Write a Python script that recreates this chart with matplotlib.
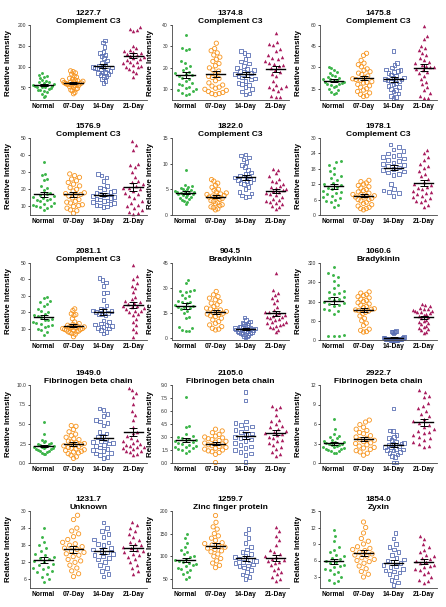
import numpy as np
import matplotlib.pyplot as plt

plt.rcParams['font.family'] = ['Liberation Sans', 'DejaVu Sans']

groups = ["Normal", "07-Day", "14-Day", "21-Day"]
colors = ["#3db54a", "#f7941d", "#5a6fb3", "#a81c5e"]

titles = ["1227.7\nComplement C3", "1374.8\nComplement C3", "1475.8\nComplement C3",
          "1576.9\nComplement C3", "1822.0\nComplement C3", "1978.1\nComplement C3",
          "2081.1\nComplement C3", "904.5\nBradykinin", "1060.6\nBradykinin",
          "1949.0\nFibrinogen beta chain", "2105.0\nFibrinogen beta chain", "2922.7\nFibrinogen beta chain",
          "1231.7\nUnknown", "1259.7\nZinc finger protein", "1854.0\nZyxin"]

# values per peak: Normal, 07-Day, 14-Day, 21-Day
mz_1227_7 = [
    [84, 80, 78, 75, 72, 68, 66, 64, 62, 60, 58, 57, 56, 55, 54, 53, 52, 51, 50, 48, 46, 45, 43, 41, 38, 35, 30, 27],
    [90, 88, 85, 82, 78, 75, 72, 70, 68, 67, 66, 65, 64, 63, 62, 61, 60, 60, 59, 58, 57, 56, 55, 54, 52, 50, 48, 46, 44, 42, 38, 35],
    [163, 158, 148, 135, 132, 128, 125, 120, 115, 110, 105, 103, 100, 99, 98, 97, 96, 95, 93, 90, 88, 86, 84, 82, 80, 78, 75, 70, 65, 60],
    [196, 190, 188, 185, 150, 145, 140, 138, 135, 132, 130, 128, 125, 122, 120, 118, 115, 112, 110, 108, 105, 102, 100, 98, 95, 90, 85, 75]]
mz_1374_8 = [
    [35.5, 29.5, 29, 28.5, 23, 22.5, 21, 20, 19, 18, 17.5, 17, 16.5, 16, 15.5, 15, 14, 13, 12.5, 12, 11, 10.5, 10, 9.5, 9, 8.5, 8, 7.5],
    [31.5, 29, 28, 27, 26, 25, 24, 23, 22, 21, 20, 19, 18.5, 17, 16, 15.5, 15, 14, 13, 12, 11.5, 11, 10.5, 10, 9.5, 9, 8.5, 8, 8, 7.5],
    [28, 27, 26, 24, 23, 22, 21, 20, 19.5, 19, 18.5, 18, 17.5, 17, 16.5, 16, 15.5, 15, 14.5, 14, 13, 12.5, 12, 11, 10, 9, 8, 7.5],
    [36.5, 32, 31, 30.5, 29, 28, 26, 25, 24.5, 24, 23, 22.5, 22, 21.5, 21, 20, 19, 18, 17, 16, 14, 12, 11.5, 11, 10.5, 10, 9, 7, 6.5, 6.5]]
mz_1475_8 = [
    [30.5, 29.5, 28.5, 27, 26, 25, 24, 23, 22.5, 22, 21.5, 21, 20.5, 20, 19.5, 19, 18.5, 18, 17.5, 17, 16, 15, 14, 13, 12, 11],
    [40, 38.5, 35, 33, 32, 30.5, 29, 28, 27, 26, 25, 24, 23, 22, 21.5, 21, 20, 19.5, 19, 18, 17, 16, 15, 14, 13, 12, 11, 10, 9.5],
    [41.5, 33, 31.5, 30, 28.5, 28, 27.5, 27, 26, 25, 24, 23, 22.5, 22, 21.5, 21, 20.5, 20, 19, 18, 17, 16, 15, 14, 13, 11.5, 10, 9, 8.5],
    [59, 52.5, 50, 45.5, 44, 42, 40.5, 39, 37, 35.5, 34, 33, 32, 31, 30.5, 30, 29, 28, 27, 26, 24, 22, 20, 18, 16, 14, 12, 10, 8.5, 8.5]]
mz_1576_9 = [
    [36, 29, 28.5, 26, 25.5, 22, 21, 19.5, 18, 17, 16.5, 16, 15.5, 15, 14.5, 14, 13.5, 13, 12, 11.5, 11, 10.5, 10, 9.5, 9, 8],
    [29, 28, 27, 26, 25, 24, 23, 22, 21, 20, 19, 18, 17.5, 17, 16.5, 16, 15, 14, 13, 12.5, 12, 11, 10.5, 10, 9, 8, 7.5, 6],
    [29, 28, 27, 25, 22, 21, 20, 19, 18.5, 18, 17.5, 17, 16.5, 16, 15.5, 15, 14.5, 14, 13.5, 13, 12.5, 12, 11.5, 11, 10.5, 10, 9.5],
    [48, 46, 43, 35, 34, 33, 30, 27, 25, 24, 23, 22, 21, 20.5, 20, 19, 18, 17, 16, 15, 13, 12, 11, 10, 9, 8, 7, 6, 5.5]]
mz_1822_0 = [
    [8.7, 5.9, 5.7, 5.5, 5.3, 5.1, 5.0, 4.8, 4.7, 4.6, 4.5, 4.4, 4.3, 4.2, 4.1, 4.0, 3.9, 3.8, 3.6, 3.5, 3.3, 3.1, 3.0, 2.8, 2.5, 2.2],
    [6.9, 6.6, 6.2, 5.8, 5.4, 5.0, 4.8, 4.5, 4.3, 4.1, 4.0, 3.8, 3.7, 3.6, 3.5, 3.4, 3.2, 3.0, 2.8, 2.6, 2.4, 2.2, 2.0, 1.8, 1.6, 1.4, 1.2, 1.0],
    [11.8, 11.6, 11.2, 10.8, 10.3, 9.7, 9.3, 8.8, 8.3, 8.0, 7.7, 7.5, 7.3, 7.1, 7.0, 6.8, 6.6, 6.4, 6.2, 6.0, 5.5, 5.0, 4.5, 4.2, 3.8, 3.6, 3.5],
    [9.0, 8.8, 8.1, 7.5, 7.0, 6.7, 6.4, 6.0, 5.7, 5.5, 5.2, 5.0, 4.8, 4.6, 4.4, 4.2, 4.0, 3.8, 3.5, 3.2, 3.0, 2.8, 2.6, 2.4, 2.2, 1.8, 1.5, 1.2]]
mz_1978_1 = [
    [21, 20.5, 19.5, 18.5, 17, 16, 15, 14.5, 13.5, 12.5, 12, 11.5, 11, 10.5, 10, 9.5, 9, 8.5, 8, 7.5, 7, 6.5, 6, 5.5, 5, 4, 3],
    [13.5, 13, 12.5, 12, 11.5, 11, 10.5, 10, 9.5, 9, 8.5, 8, 8, 7.5, 7.5, 7, 7, 6.5, 6, 6, 5.5, 5, 4.5, 4, 3.5, 3, 2.5, 2.5, 2],
    [27.5, 26.5, 25.5, 25, 24, 23.5, 23, 22.5, 22, 21.5, 21, 20.5, 20, 19.5, 19, 18.5, 18, 17.5, 17, 16.5, 16, 15.5, 12, 10, 9.5, 9, 8.5, 7.5],
    [25.5, 24, 22.5, 21.5, 20, 19, 18.5, 17, 16, 15, 14, 13, 12, 11.5, 11, 10.5, 10, 9.5, 9, 8.5, 8, 7.5, 7, 6.5, 6, 5.5, 5, 4, 3]]
mz_2081_1 = [
    [29.5, 28.5, 27, 26, 25, 24, 22, 21, 20, 19, 18, 17.5, 17, 16, 15.5, 15, 14, 13.5, 13, 12, 11.5, 11, 10, 9, 8, 6],
    [22, 21, 19, 18.5, 18, 16, 14, 13, 12.5, 12, 11.5, 11, 11, 10.5, 10.5, 10, 10, 9.5, 9.5, 9, 9, 8.5, 8, 8, 7.5, 7, 6.5, 5],
    [41, 39.5, 38, 36, 32, 31.5, 27.5, 24, 22, 21.5, 21, 20.5, 20, 19.5, 19, 18.5, 18, 15, 14, 13, 12.5, 12, 11.5, 11, 10.5, 10, 9, 8, 7],
    [48.5, 42, 40.5, 38, 36, 35, 32, 29, 28, 27, 26, 25.5, 25, 24, 23.5, 23, 22.5, 22, 21, 20.5, 20, 19, 18, 16, 14, 12, 10, 8, 5]]
mz_904_5 = [
    [35, 33, 29, 28.5, 28, 27.5, 26, 25, 24, 22.5, 22, 21.5, 21, 20, 19.5, 19, 18.5, 18, 17.5, 16.5, 15, 13, 12, 7, 6, 5, 4.5, 4.5],
    [28, 26, 25, 24, 23, 22, 21, 20, 19, 18, 17.5, 17, 16.5, 16, 15.5, 15, 14.5, 14, 13.5, 13, 12, 11, 10, 9, 8, 7, 6, 5.5, 5],
    [12.5, 11, 10, 9.5, 9, 8.5, 8, 7.5, 7, 6.8, 6.5, 6.2, 6, 5.8, 5.5, 5.2, 5, 4.8, 4.5, 4.2, 4, 3.8, 3.5, 3.2, 3, 2.5, 2, 1.5, 1, 0.5],
    [39, 29, 27, 26, 24, 23, 21, 19, 17, 16, 15.5, 15, 14.5, 14, 13.5, 13, 12.5, 12, 11.5, 11, 10, 9.5, 9, 8.5, 8, 7.5, 7, 6, 5, 3.5]]
mz_1060_6 = [
    [305, 280, 270, 260, 245, 230, 215, 205, 200, 195, 190, 180, 175, 170, 165, 160, 155, 150, 145, 140, 130, 125, 120, 110, 20, 18, 17, 16],
    [200, 195, 190, 185, 180, 175, 170, 165, 160, 155, 150, 145, 140, 135, 130, 128, 125, 122, 120, 115, 110, 100, 90, 80, 70, 60, 45, 40, 35, 33],
    [38, 36, 35, 33, 32, 30, 12, 10, 9, 8, 7, 6, 6, 5, 5, 4, 4, 3, 3, 2, 2, 2, 1, 1, 1, 1, 0.5, 0.5, 0.5, 0.5],
    [150, 145, 140, 135, 130, 128, 125, 122, 120, 118, 115, 112, 110, 105, 100, 95, 90, 85, 80, 75, 70, 65, 60, 55, 50, 45, 40, 35, 30]]
mz_1949_0 = [
    [5.2, 3.7, 3.0, 2.8, 2.7, 2.6, 2.5, 2.4, 2.3, 2.2, 2.2, 2.1, 2.0, 2.0, 1.9, 1.9, 1.8, 1.8, 1.7, 1.6, 1.5, 1.4, 1.3, 1.2, 1.1],
    [4.8, 4.7, 4.3, 4.0, 3.7, 3.5, 3.3, 3.1, 3.0, 2.8, 2.7, 2.6, 2.5, 2.4, 2.3, 2.2, 2.1, 2.0, 1.9, 1.8, 1.7, 1.6, 1.5, 1.4, 1.3, 1.2, 1.0, 0.8, 0.6],
    [7.0, 6.8, 6.3, 6.0, 5.5, 5.3, 5.1, 4.8, 4.0, 3.8, 3.5, 3.3, 3.0, 2.8, 2.7, 2.6, 2.5, 2.3, 2.2, 2.0, 1.8, 1.7, 1.5, 1.3, 1.2, 1.0, 0.8, 0.6],
    [9.6, 9.3, 9.0, 8.4, 7.6, 6.7, 6.2, 5.5, 4.6, 4.0, 3.8, 3.5, 3.2, 3.0, 2.8, 2.6, 2.5, 2.3, 2.2, 2.1, 2.0, 1.9, 1.8, 1.6, 1.5, 1.4, 1.2, 1.0]]
mz_2105_0 = [
    [7.6, 4.3, 4.2, 3.3, 3.1, 3.0, 2.9, 2.8, 2.7, 2.6, 2.5, 2.4, 2.3, 2.2, 2.1, 2.0, 1.9, 1.8, 1.7, 1.6, 1.5, 1.4, 1.2],
    [3.9, 3.7, 3.5, 3.3, 3.1, 3.0, 2.9, 2.8, 2.7, 2.6, 2.5, 2.4, 2.3, 2.2, 2.1, 2.0, 1.9, 1.8, 1.7, 1.6, 1.5, 1.4, 1.3, 1.2, 1.0, 0.05],
    [8.2, 7.2, 4.8, 4.6, 4.4, 4.2, 4.0, 3.8, 3.6, 3.4, 3.2, 3.0, 2.9, 2.7, 2.5, 2.3, 2.1, 1.9, 1.7, 1.5, 1.3, 1.1, 0.9, 0.1],
    [6.6, 6.5, 6.2, 5.5, 5.0, 4.8, 4.5, 4.3, 4.1, 3.9, 3.7, 3.6, 3.5, 3.4, 3.2, 3.0, 2.9, 2.7, 2.5, 2.3, 2.1, 1.9, 1.6, 1.3, 1.0, 0.8]]
mz_2922_7 = [
    [6.7, 5.3, 4.5, 4.2, 4.0, 3.8, 3.6, 3.4, 3.3, 3.2, 3.1, 3.0, 2.9, 2.8, 2.7, 2.6, 2.5, 2.4, 2.3, 2.2, 2.1, 2.0, 1.9, 1.8, 1.6, 1.5],
    [6.6, 6.3, 5.9, 5.5, 5.2, 5.0, 4.7, 4.5, 4.2, 4.0, 3.8, 3.6, 3.5, 3.3, 3.1, 3.0, 2.8, 2.6, 2.4, 2.3, 2.1, 1.9, 1.7, 1.5, 1.2],
    [8.4, 5.0, 4.9, 4.3, 4.0, 3.8, 3.5, 3.3, 3.1, 3.0, 2.9, 2.8, 2.6, 2.5, 2.4, 2.2, 2.1, 2.0, 1.9, 1.7, 1.5, 1.3, 1.1, 0.9, 0.1, 0.1],
    [11.3, 11.0, 10.3, 10.1, 9.3, 8.8, 8.4, 8.0, 7.6, 7.2, 6.8, 6.5, 6.2, 5.9, 5.6, 5.3, 5.0, 4.8, 4.6, 4.3, 4.0, 3.8, 3.5, 3.2, 3.0, 2.6, 2.4]]
mz_1231_7 = [
    [24, 21, 19, 18, 17, 16, 15, 14.5, 14, 13.5, 13, 12.5, 12, 11.5, 11, 10.5, 10, 9.5, 9, 8.5, 8, 7, 6, 5],
    [28.5, 27, 24, 23, 22, 21, 20, 19, 18.5, 18, 17.5, 17, 16.5, 16, 15.5, 15, 14.5, 14, 13, 12.5, 12, 11, 10, 9, 8, 7],
    [26, 24, 23, 22, 21, 20, 19, 18.5, 18, 17, 16.5, 16, 15.5, 15, 14.5, 14, 13.5, 13, 12, 11, 10, 9, 8, 7],
    [26, 25, 24, 23, 22, 21, 20, 19, 18.5, 18, 17.5, 17, 16.5, 16, 15.5, 15, 14.5, 14, 13, 12, 11, 10, 9, 8]]
mz_1259_7 = [
    [150, 140, 130, 120, 115, 110, 105, 100, 98, 95, 92, 90, 88, 85, 82, 80, 78, 75, 72, 70, 65, 60, 55, 50],
    [190, 175, 165, 160, 150, 145, 140, 135, 130, 128, 125, 122, 120, 118, 115, 112, 110, 105, 100, 95, 90, 85, 80, 75],
    [160, 150, 140, 130, 120, 115, 110, 105, 100, 98, 95, 92, 90, 88, 85, 82, 80, 78, 75, 70, 65, 60, 55, 50],
    [165, 155, 145, 135, 125, 115, 110, 105, 100, 98, 95, 92, 90, 88, 85, 80, 75, 70, 65, 60, 55, 50, 45]]
mz_1854_0 = [
    [11.5, 10.5, 9.5, 8.5, 8, 7.5, 7, 6.8, 6.5, 6.2, 6, 5.8, 5.5, 5.2, 5, 4.8, 4.5, 4.2, 4, 3.5, 3, 2.5, 2.2, 2],
    [13, 12, 11, 10, 9.5, 9, 8.5, 8.2, 8, 7.8, 7.5, 7.2, 7, 6.8, 6.5, 6.2, 6, 5.8, 5.5, 5, 4.5, 4, 3.5, 3],
    [11, 10, 9, 8.5, 8, 7.5, 7, 6.5, 6.2, 6, 5.8, 5.5, 5.2, 5, 4.8, 4.5, 4.2, 4, 3.8, 3.5, 3, 2.5, 2, 1.5],
    [10.5, 10, 9, 8.5, 8, 7.5, 7, 6.8, 6.5, 6.2, 6, 5.8, 5.5, 5.2, 5, 4.8, 4.5, 4.2, 4, 3.5, 3, 2.5, 2.2, 2]]

panels = [mz_1227_7, mz_1374_8, mz_1475_8, mz_1576_9, mz_1822_0, mz_1978_1, mz_2081_1,
          mz_904_5, mz_1060_6, mz_1949_0, mz_2105_0, mz_2922_7, mz_1231_7, mz_1259_7, mz_1854_0]

ylims = [(20, 200), (5, 40), (7, 60), (5, 50), (0, 15), (0, 30), (3, 50), (-1, 45), (0, 320),
         (0, 10), (0, 9), (0, 12), (3, 30), (30, 200), (1, 15)]
ytick_labels = [["50", "100", "150", "200"], ["10", "20", "30", "40"], ["15", "30", "45", "60"],
                ["10", "20", "30", "40", "50"], ["0", "5", "10", "15"], ["0", "6", "12", "18", "24", "30"],
                ["10", "20", "30", "40", "50"], ["0", "15", "30", "45"], ["0", "80", "160", "240", "320"],
                ["0.0", "2.5", "5.0", "7.5", "10.0"], ["0.0", "1.5", "3.0", "4.5", "6.0", "7.5", "9.0"],
                ["0", "3", "6", "9", "12"], ["6", "12", "18", "24", "30"], ["50", "100", "150", "200"],
                ["3", "6", "9", "12", "15"]]

markers = ["o", "o", "s", "^"]
hollow = [False, True, True, False]
sizes = [4.5, 9.5, 7.0, 6.5]
spacing_px = 6.0

W, H = 446, 607
col_left = [30, 172, 320]
ax_w = 117
rows = [(25, 100), (138, 215), (263, 340), (385, 463), (511, 588)]
px_per_cat = ax_w / 3.9
max_half = 0.36


def swarm(vals, lo, hi, h_px, d):
    py = (np.asarray(vals, float) - lo) / (hi - lo) * h_px
    xs = np.zeros(len(py))
    placed = []
    for i in np.argsort(py):
        cands = [0.0]
        for j in placed:
            dy = py[i] - py[j]
            if abs(dy) < d:
                dx = np.sqrt(d * d - dy * dy)
                cands += [xs[j] + dx, xs[j] - dx]
        cands.sort(key=abs)
        for c in cands:
            if all((c - xs[j]) ** 2 + (py[i] - py[j]) ** 2 >= d * d - 1e-6 for j in placed):
                xs[i] = c
                break
        placed.append(i)
    xs = xs / px_per_cat
    widest = np.abs(xs).max()
    if widest > max_half:
        xs = xs * max_half / widest
    return xs


fig = plt.figure(figsize=(W / 100, H / 100), dpi=100)

for n, data in enumerate(panels):
    r, c = divmod(n, 3)
    top, bot = rows[r]
    ax = fig.add_axes([col_left[c] / W, 1 - bot / H, ax_w / W, (bot - top) / H])
    lo, hi = ylims[n]
    for k, vals in enumerate(data):
        vals = np.array(vals, float)
        xo = swarm(vals, lo, hi, bot - top, spacing_px)
        if hollow[k]:
            ax.scatter(k + xo, vals, s=sizes[k], marker=markers[k], facecolors="none",
                       edgecolors=colors[k], linewidths=0.6, zorder=2, clip_on=False)
        else:
            ax.scatter(k + xo, vals, s=sizes[k], marker=markers[k], color=colors[k],
                       linewidths=0, zorder=2, clip_on=False)
        m = vals.mean()
        se = vals.std(ddof=1) / np.sqrt(len(vals))
        ax.plot([k - 0.32, k + 0.32], [m, m], color="black", lw=1.0, zorder=4)
        ax.errorbar(k, m, yerr=se, color="black", lw=0.7, capsize=2.6, capthick=0.7, zorder=4)
    ax.set_xlim(-0.45, 3.45)
    ax.set_ylim(lo, hi)
    labs = ytick_labels[n]
    ax.set_yticks([float(t) for t in labs])
    ax.set_yticklabels(labs)
    ax.set_xticks(range(4))
    ax.set_xticklabels(groups, fontsize=4.8, fontweight="bold")
    ax.tick_params(axis="x", length=0, pad=2.5)
    ax.tick_params(axis="y", length=1.8, width=0.5, pad=1, labelsize=3.6, labelcolor="#333333")
    for s in ("top", "right"):
        ax.spines[s].set_visible(False)
    for s in ("left", "bottom"):
        ax.spines[s].set_linewidth(0.6)
        ax.spines[s].set_color("#444444")
    ax.set_ylabel("Relative Intensity", fontsize=5.8, fontweight="bold")
    ax.yaxis.set_label_coords(-0.15, 0.5)
    ax.set_title(titles[n], fontsize=6, fontweight="bold", pad=1, linespacing=1.25)

fig.savefig("out.png", dpi=100)
